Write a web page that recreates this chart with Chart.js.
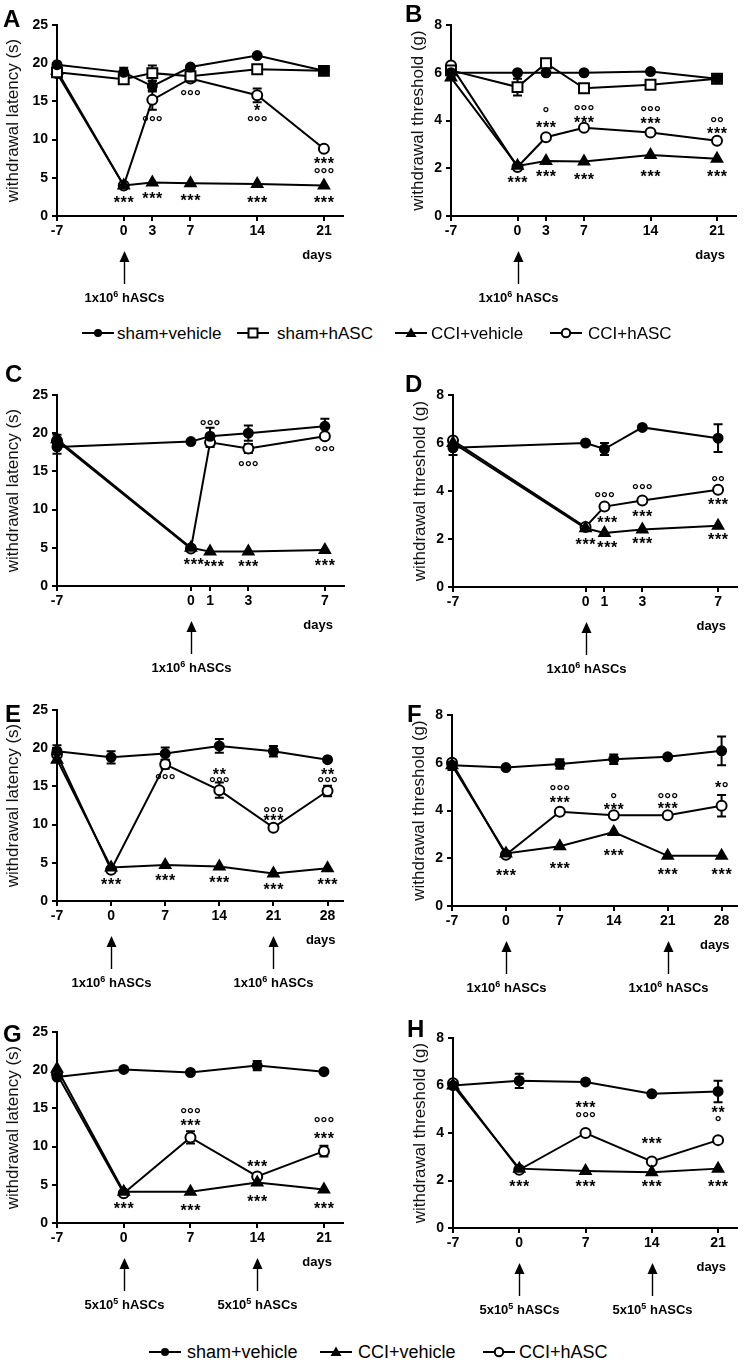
<!DOCTYPE html>
<html>
<head>
<meta charset="utf-8">
<script src="https://cdn.jsdelivr.net/npm/chart.js@4.4.0/dist/chart.umd.min.js"></script>
<style>
  body { margin: 0; background: #fff; width: 745px; height: 1364px; position: relative; overflow: hidden;
         font-family: "Liberation Sans", Arial, sans-serif; }
  canvas { position: absolute; }
  .tag { position: absolute; font-weight: bold; font-size: 24px; line-height: 24px; color: #000; }
  .leg { position: absolute; white-space: nowrap; color: #000; }
  .legsym { position: absolute; }
</style>
</head>
<body>
<script>
const seriesNames = ["sham+vehicle", "sham+hASC", "CCI+vehicle", "CCI+hASC"];

// A - latency, single dose
const daysA = [-7, 0, 3, 7, 14, 21];
const aShamVeh = [19.8, 18.8, 17.0, 19.5, 21.0, 19.0];
const aShamVehSem = [0.4, 0.6, 0.7, 0.3, 0.3, 0.3];
const aShamHasc = [18.8, 17.9, 18.7, 18.3, 19.2, 19.0];
const aShamHascSem = [0.5, 0.5, 1.0, 0.6, 0.8, 0.6];
const aCciVeh = [19.0, 4.0, 4.4, 4.3, 4.2, 4.0];
const aCciVehSem = [0.4, 0.2, 0.2, 0.2, 0.2, 0.2];
const aCciHasc = [18.7, 4.0, 15.2, 18.0, 15.8, 8.8];
const aCciHascSem = [0.4, 0.2, 1.3, 0.5, 0.9, 0.3];
const notesA = [[0, 2.1, "***"], [3, 2.7, "***"], [7, 2.4, "***"], [14, 2.2, "***"], [21, 2.1, "***"],
  [3, 12.8, "°°°"], [7, 16.1, "°°°"], [14, 14.2, "*"], [14, 12.8, "°°°"], [21, 7.2, "***"], [21, 6.0, "°°°"]];

// B - threshold, single dose
const daysB = [-7, 0, 3, 7, 14, 21];
const bShamVeh = [6.0, 6.0, 6.0, 6.0, 6.05, 5.75];
const bShamVehSem = [0.2, 0.1, 0.1, 0.1, 0.1, 0.1];
const bShamHasc = [6.1, 5.4, 6.4, 5.35, 5.5, 5.75];
const bShamHascSem = [0.2, 0.35, 0.15, 0.1, 0.1, 0.1];
const bCciVeh = [5.8, 2.1, 2.3, 2.28, 2.55, 2.4];
const bCciVehSem = [0.2, 0.1, 0.1, 0.1, 0.1, 0.1];
const bCciHasc = [6.3, 2.05, 3.3, 3.7, 3.5, 3.15];
const bCciHascSem = [0.15, 0.1, 0.15, 0.1, 0.1, 0.1];
const notesB = [[0, 1.51, "***"], [3, 1.76, "***"], [7, 1.65, "***"], [14, 1.79, "***"], [21, 1.76, "***"],
  [3, 4.44, "°"], [3, 3.85, "***"], [7, 4.55, "°°°"], [7, 4.06, "***"], [14, 4.51, "°°°"], [14, 3.99, "***"],
  [21, 4.06, "°°"], [21, 3.58, "***"]];

// C - latency, early days
const daysC = [-7, 0, 1, 3, 7];
const cShamVeh = [18.2, 18.9, 19.6, 20.0, 20.9];
const cShamVehSem = [0.9, 0.5, 1.1, 1.0, 1.0];
const cCciVeh = [19.2, 5.0, 4.5, 4.5, 4.7];
const cCciVehSem = [0.6, 0.2, 0.2, 0.2, 0.2];
const cCciHasc = [19.0, 4.9, 18.8, 18.0, 19.6];
const cCciHascSem = [0.8, 0.2, 0.6, 0.6, 0.4];
const notesC = [[0.15, 3.2, "***"], [1.2, 3.0, "***"], [3, 3.0, "***"], [7, 3.05, "***"],
  [1, 21.4, "°°°"], [3, 16.06, "°°°"], [7, 18.0, "°°°"]];

// D - threshold, early days
const daysD = [-7, 0, 1, 3, 7];
const dShamVeh = [5.8, 6.0, 5.75, 6.65, 6.2];
const dShamVehSem = [0.3, 0.15, 0.25, 0.1, 0.58];
const dCciVeh = [6.0, 2.45, 2.25, 2.4, 2.55];
const dCciVehSem = [0.2, 0.1, 0.1, 0.1, 0.1];
const dCciHasc = [6.1, 2.5, 3.35, 3.6, 4.05];
const dCciHascSem = [0.15, 0.1, 0.1, 0.1, 0.1];
const notesD = [[0, 1.88, "***"], [1.15, 1.77, "***"], [1.15, 2.81, "***"], [1, 3.85, "°°°"],
  [3, 1.95, "***"], [3, 3.06, "***"], [3, 4.17, "°°°"], [7, 2.09, "***"], [7, 3.55, "***"], [7, 4.52, "°°"]];

// E - latency, two doses
const daysE = [-7, 0, 7, 14, 21, 28];
const eShamVeh = [19.6, 18.8, 19.3, 20.3, 19.6, 18.5];
const eShamVehSem = [0.8, 0.8, 0.8, 0.9, 0.7, 0.3];
const eCciVeh = [18.5, 4.4, 4.7, 4.5, 3.6, 4.3];
const eCciVehSem = [0.3, 0.2, 0.2, 0.2, 0.2, 0.2];
const eCciHasc = [19.2, 4.1, 17.9, 14.5, 9.6, 14.4];
const eCciHascSem = [0.5, 0.2, 0.6, 1.0, 0.4, 0.7];
const notesE = [[0, 2.5, "***"], [7, 3.06, "***"], [14, 2.8, "***"], [21, 1.9, "***"], [28, 2.6, "***"],
  [7, 16.3, "°°°"], [14, 17.0, "**"], [14, 15.9, "°°°"], [21, 12.0, "°°°"], [21, 10.9, "***"],
  [28, 16.9, "**"], [28, 15.9, "°°°"]];

// F - threshold, two doses
const daysF = [-7, 0, 7, 14, 21, 28];
const fShamVeh = [5.9, 5.8, 5.95, 6.15, 6.25, 6.5];
const fShamVehSem = [0.2, 0.1, 0.2, 0.2, 0.05, 0.6];
const fCciVeh = [5.9, 2.2, 2.5, 3.1, 2.1, 2.1];
const fCciVehSem = [0.1, 0.1, 0.05, 0.05, 0.05, 0.05];
const fCciHasc = [6.0, 2.15, 3.95, 3.8, 3.8, 4.2];
const fCciHascSem = [0.1, 0.1, 0.1, 0.1, 0.1, 0.45];
const notesF = [[0, 1.4, "***"], [7, 1.68, "***"], [14, 2.23, "***"], [21, 1.44, "***"], [28, 1.44, "***"],
  [7, 4.96, "°°°"], [7, 4.44, "***"], [14, 4.61, "°"], [14, 4.16, "***"], [21, 4.61, "°°°"], [21, 4.2, "***"],
  [28, 5.07, "*°"]];

// G - latency, low dose twice
const daysG = [-7, 0, 7, 14, 21];
const gShamVeh = [19.1, 20.1, 19.7, 20.6, 19.8];
const gShamVehSem = [0.3, 0.3, 0.5, 0.6, 0.3];
const gCciVeh = [20.2, 4.1, 4.1, 5.3, 4.4];
const gCciVehSem = [0.3, 0.2, 0.2, 0.3, 0.2];
const gCciHasc = [19.5, 3.9, 11.2, 6.1, 9.4];
const gCciHascSem = [0.3, 0.2, 0.8, 0.3, 0.7];
const notesG = [[0, 2.3, "***"], [7, 2.0, "***"], [14, 3.27, "***"], [21, 2.3, "***"],
  [7, 14.66, "°°°"], [7, 13.2, "***"], [14, 7.77, "***"], [21, 13.5, "°°°"], [21, 11.5, "***"]];

// H - threshold, low dose twice
const daysH = [-7, 0, 7, 14, 21];
const hShamVeh = [6.0, 6.2, 6.15, 5.65, 5.75];
const hShamVehSem = [0.1, 0.3, 0.15, 0.05, 0.45];
const hCciVeh = [6.0, 2.5, 2.4, 2.35, 2.5];
const hCciVehSem = [0.1, 0.05, 0.05, 0.05, 0.05];
const hCciHasc = [6.1, 2.45, 4.0, 2.8, 3.7];
const hCciHascSem = [0.1, 0.05, 0.05, 0.05, 0.15];
const notesH = [[0, 1.89, "***"], [7, 1.89, "***"], [14, 1.89, "***"], [21, 1.89, "***"],
  [7, 5.19, "***"], [7, 4.77, "°°°"], [14, 3.69, "***"], [21, 5.01, "**"], [21, 4.6, "°"]];

const dose1e6 = ["1x10", "6", " hASCs"];
const dose5e5 = ["5x10", "5", " hASCs"];
const latTitle = "withdrawal latency (s)";
const thrTitle = "withdrawal threshold (g)";

const FONT = "'Liberation Sans', Arial, sans-serif";
Chart.defaults.font.family = FONT;

const looks = [
  { pointStyle: "circle", radius: 4.5, bg: "#000" },
  { pointStyle: "rect", radius: 7, bg: "#fff" },
  { pointStyle: "triangle", radius: 6, bg: "#000" },
  { pointStyle: "circle", radius: 5, bg: "#fff" }
];

// box = canvas [x, y, w, h], area = plot area [left, top, right, bottom], page pixels
const panels = [
  { id: "A", box: [0, 0, 372, 310], area: [57, 25, 343, 216], padL: 0, xMax: 23, yMax: 25, yStep: 5, yTitle: latTitle,
    days: daysA, notes: notesA, arrows: [0], dose: dose1e6,
    series: [[0, aShamVeh, aShamVehSem], [1, aShamHasc, aShamHascSem], [2, aCciVeh, aCciVehSem], [3, aCciHasc, aCciHascSem]] },
  { id: "B", box: [372, 0, 373, 310], area: [451, 25, 739, 216], padL: 33, xMax: 23, yMax: 8, yStep: 2, yTitle: thrTitle,
    days: daysB, notes: notesB, arrows: [0], dose: dose1e6,
    series: [[0, bShamVeh, bShamVehSem], [1, bShamHasc, bShamHascSem], [2, bCciVeh, bCciVehSem], [3, bCciHasc, bCciHascSem]] },
  { id: "C", box: [0, 345, 372, 335], area: [57, 395, 344, 586], padL: 0, xMax: 8, yMax: 25, yStep: 5, yTitle: latTitle,
    days: daysC, notes: notesC, arrows: [0], dose: dose1e6,
    series: [[0, cShamVeh, cShamVehSem], [2, cCciVeh, cCciVehSem], [3, cCciHasc, cCciHascSem]] },
  { id: "D", box: [372, 345, 373, 335], area: [453, 395, 740, 587], padL: 35, xMax: 8, yMax: 8, yStep: 2, yTitle: thrTitle,
    days: daysD, notes: notesD, arrows: [0], dose: dose1e6,
    series: [[0, dShamVeh, dShamVehSem], [2, dCciVeh, dCciVehSem], [3, dCciHasc, dCciHascSem]] },
  { id: "E", box: [0, 690, 372, 315], area: [57, 710, 343, 901], padL: 0, xMax: 30, yMax: 25, yStep: 5, yTitle: latTitle,
    days: daysE, notes: notesE, arrows: [0, 21], dose: dose1e6,
    series: [[0, eShamVeh, eShamVehSem], [2, eCciVeh, eCciVehSem], [3, eCciHasc, eCciHascSem]] },
  { id: "F", box: [372, 690, 373, 315], area: [452, 715, 737, 906], padL: 34, xMax: 30, yMax: 8, yStep: 2, yTitle: thrTitle,
    days: daysF, notes: notesF, arrows: [0, 21], dose: dose1e6,
    series: [[0, fShamVeh, fShamVehSem], [2, fCciVeh, fCciVehSem], [3, fCciHasc, fCciHascSem]] },
  { id: "G", box: [0, 1015, 372, 310], area: [57, 1032, 343, 1223], padL: 0, xMax: 23, yMax: 25, yStep: 5, yTitle: latTitle,
    days: daysG, notes: notesG, arrows: [0, 14], dose: dose5e5,
    series: [[0, gShamVeh, gShamVehSem], [2, gCciVeh, gCciVehSem], [3, gCciHasc, gCciHascSem]] },
  { id: "H", box: [372, 1015, 373, 310], area: [453, 1038, 740, 1228], padL: 35, xMax: 23, yMax: 8, yStep: 2, yTitle: thrTitle,
    days: daysH, notes: notesH, arrows: [0, 14], dose: dose5e5,
    series: [[0, hShamVeh, hShamVehSem], [2, hCciVeh, hCciVehSem], [3, hCciHasc, hCciHascSem]] }
];

const tags = [["A", 3, 7], ["B", 405, 2], ["C", 5, 362], ["D", 405, 372], ["E", 5, 702], ["F", 407, 702], ["G", 3, 1022], ["H", 407, 1017]];

const topLegend = [[0, 82, 117], [1, 237, 277], [2, 395, 431], [3, 550, 588]];
const bottomLegend = [[0, 149, 187], [2, 320, 358], [3, 483, 519]];

const byId = {};

function drawCentered(ctx, ch, x, cy) {
  const m = ctx.measureText(ch);
  ctx.fillText(ch, x, cy + (m.actualBoundingBoxAscent - m.actualBoundingBoxDescent) / 2);
}

const extras = {
  id: "extras",
  beforeDatasetsDraw(chart) {
    const xs = chart.scales.x, ys = chart.scales.y, ctx = chart.ctx;
    ctx.save();
    ctx.strokeStyle = "#000";
    ctx.lineWidth = 2;
    chart.data.datasets.forEach(ds => {
      ds.data.forEach((pt, j) => {
        const e = ds.sem[j];
        const x = xs.getPixelForValue(pt.x);
        const y1 = ys.getPixelForValue(pt.y + e), y2 = ys.getPixelForValue(pt.y - e);
        if ((y2 - y1) / 2 < ds.pointRadius - 0.5) return;
        ctx.beginPath();
        ctx.moveTo(x, y1); ctx.lineTo(x, y2);
        ctx.moveTo(x - 4.5, y1); ctx.lineTo(x + 4.5, y1);
        ctx.moveTo(x - 4.5, y2); ctx.lineTo(x + 4.5, y2);
        ctx.stroke();
      });
    });
    ctx.restore();
  },
  afterDraw(chart) {
    const p = byId[chart.canvas.id];
    const xs = chart.scales.x, ys = chart.scales.y, ctx = chart.ctx;
    const b = chart.chartArea.bottom;
    ctx.save();
    ctx.fillStyle = "#000";
    ctx.strokeStyle = "#000";
    ctx.textAlign = "center";

    // significance marks
    p.notes.forEach(([d, v, txt]) => {
      const cx = xs.getPixelForValue(d), cy = ys.getPixelForValue(v);
      const adv = 6.9;
      let x = cx - (adv * txt.length) / 2 + adv / 2;
      for (const ch of txt) {
        ctx.font = ch === "*" ? "bold 16px " + FONT : "bold 17px " + FONT;
        drawCentered(ctx, ch, x, cy);
        x += adv;
      }
    });

    // "days"
    ctx.font = "bold 13px " + FONT;
    ctx.textAlign = "right";
    ctx.fillText("days", xs.getPixelForValue(p.days[p.days.length - 1]) + 8, b + 43);

    // injection arrows and dose labels
    p.arrows.forEach(d => {
      const x = Math.round(xs.getPixelForValue(d)) + 0.5;
      ctx.beginPath();
      ctx.moveTo(x, b + 35);
      ctx.lineTo(x + 5, b + 46);
      ctx.lineTo(x - 5, b + 46);
      ctx.closePath();
      ctx.fill();
      ctx.lineWidth = 1.4;
      ctx.beginPath();
      ctx.moveTo(x, b + 46);
      ctx.lineTo(x, b + 68);
      ctx.stroke();

      const big = "bold 13px " + FONT, small = "bold 9px " + FONT;
      ctx.textAlign = "left";
      ctx.font = big;
      const w1 = ctx.measureText(p.dose[0]).width, w3 = ctx.measureText(p.dose[2]).width;
      ctx.font = small;
      const w2 = ctx.measureText(p.dose[1]).width;
      let tx = x - (w1 + w2 + w3) / 2;
      const base = b + 86;
      ctx.font = big; ctx.fillText(p.dose[0], tx, base); tx += w1;
      ctx.font = small; ctx.fillText(p.dose[1], tx, base - 5); tx += w2;
      ctx.font = big; ctx.fillText(p.dose[2], tx, base);
    });
    ctx.restore();
  }
};

panels.forEach(p => {
  const [bx, by, bw, bh] = p.box;
  const [al, at, ar, ab] = p.area;
  const cv = document.createElement("canvas");
  cv.id = "panel" + p.id;
  cv.width = bw; cv.height = bh;
  cv.style.left = bx + "px"; cv.style.top = by + "px";
  cv.style.width = bw + "px"; cv.style.height = bh + "px";
  document.body.appendChild(cv);
  byId[cv.id] = p;

  const tickFont = { size: 14, weight: "bold", family: FONT };
  const grid = { drawOnChartArea: false, drawTicks: true, tickLength: 5, color: "#000", lineWidth: 2 };

  new Chart(cv, {
    type: "line",
    data: {
      datasets: p.series.map(([k, vals, sem]) => ({
        label: seriesNames[k],
        data: p.days.map((d, j) => ({ x: d, y: vals[j] })),
        sem: sem,
        borderColor: "#000",
        borderWidth: 2,
        tension: 0,
        pointStyle: looks[k].pointStyle,
        pointRadius: looks[k].radius,
        pointBackgroundColor: looks[k].bg,
        pointBorderColor: "#000",
        pointBorderWidth: 2,
        clip: false
      }))
    },
    options: {
      responsive: false,
      animation: false,
      devicePixelRatio: 1,
      layout: { padding: { left: p.padL, top: at - by, right: bx + bw - ar, bottom: 0 } },
      plugins: { legend: { display: false }, tooltip: { enabled: false } },
      scales: {
        x: {
          type: "linear", min: -7, max: p.xMax,
          afterBuildTicks: s => { s.ticks = p.days.map(v => ({ value: v })); },
          afterFit: s => { s.height = by + bh - ab; },
          ticks: { color: "#000", font: tickFont, padding: 2, autoSkip: false, maxRotation: 0 },
          grid: grid,
          border: { color: "#000", width: 2 }
        },
        y: {
          min: 0, max: p.yMax,
          afterFit: s => { s.width = al - bx - p.padL; },
          ticks: { stepSize: p.yStep, color: "#000", font: tickFont, padding: 4 },
          grid: grid,
          border: { color: "#000", width: 2 },
          title: { display: true, text: p.yTitle, color: "#111", font: { size: 17, family: FONT }, padding: { top: 3, bottom: 0 } }
        }
      }
    },
    plugins: [extras]
  });
});

tags.forEach(([t, x, y]) => {
  const d = document.createElement("div");
  d.className = "tag";
  d.textContent = t;
  d.style.left = x + "px"; d.style.top = y + "px";
  document.body.appendChild(d);
});

function symbolSvg(k) {
  let m = "";
  if (k === 0) m = '<circle cx="16" cy="7" r="4" fill="#000"/>';
  if (k === 1) m = '<rect x="11.5" y="2.5" width="9" height="9" fill="#fff" stroke="#000" stroke-width="2"/>';
  if (k === 2) m = '<polygon points="16,1.5 21.5,11 10.5,11" fill="#000"/>';
  if (k === 3) m = '<circle cx="16" cy="7" r="4.2" fill="#fff" stroke="#000" stroke-width="2"/>';
  return '<svg width="32" height="14" viewBox="0 0 32 14"><line x1="0" y1="7" x2="32" y2="7" stroke="#000" stroke-width="2"/>' + m + "</svg>";
}

function addLegend(items, baseline, size) {
  items.forEach(([k, symX, textX]) => {
    const s = document.createElement("div");
    s.className = "legsym";
    s.innerHTML = symbolSvg(k);
    s.style.left = symX + "px";
    s.style.top = (baseline - size * 0.36 - 7) + "px";
    s.style.height = "14px";
    document.body.appendChild(s);

    const t = document.createElement("div");
    t.className = "leg";
    t.textContent = seriesNames[k];
    t.style.fontSize = size + "px";
    t.style.lineHeight = size + "px";
    t.style.left = textX + "px";
    t.style.top = (baseline - size * 0.85) + "px";
    document.body.appendChild(t);
  });
}

addLegend(topLegend, 339, 17);
addLegend(bottomLegend, 1358, 18);
</script>
</body>
</html>
